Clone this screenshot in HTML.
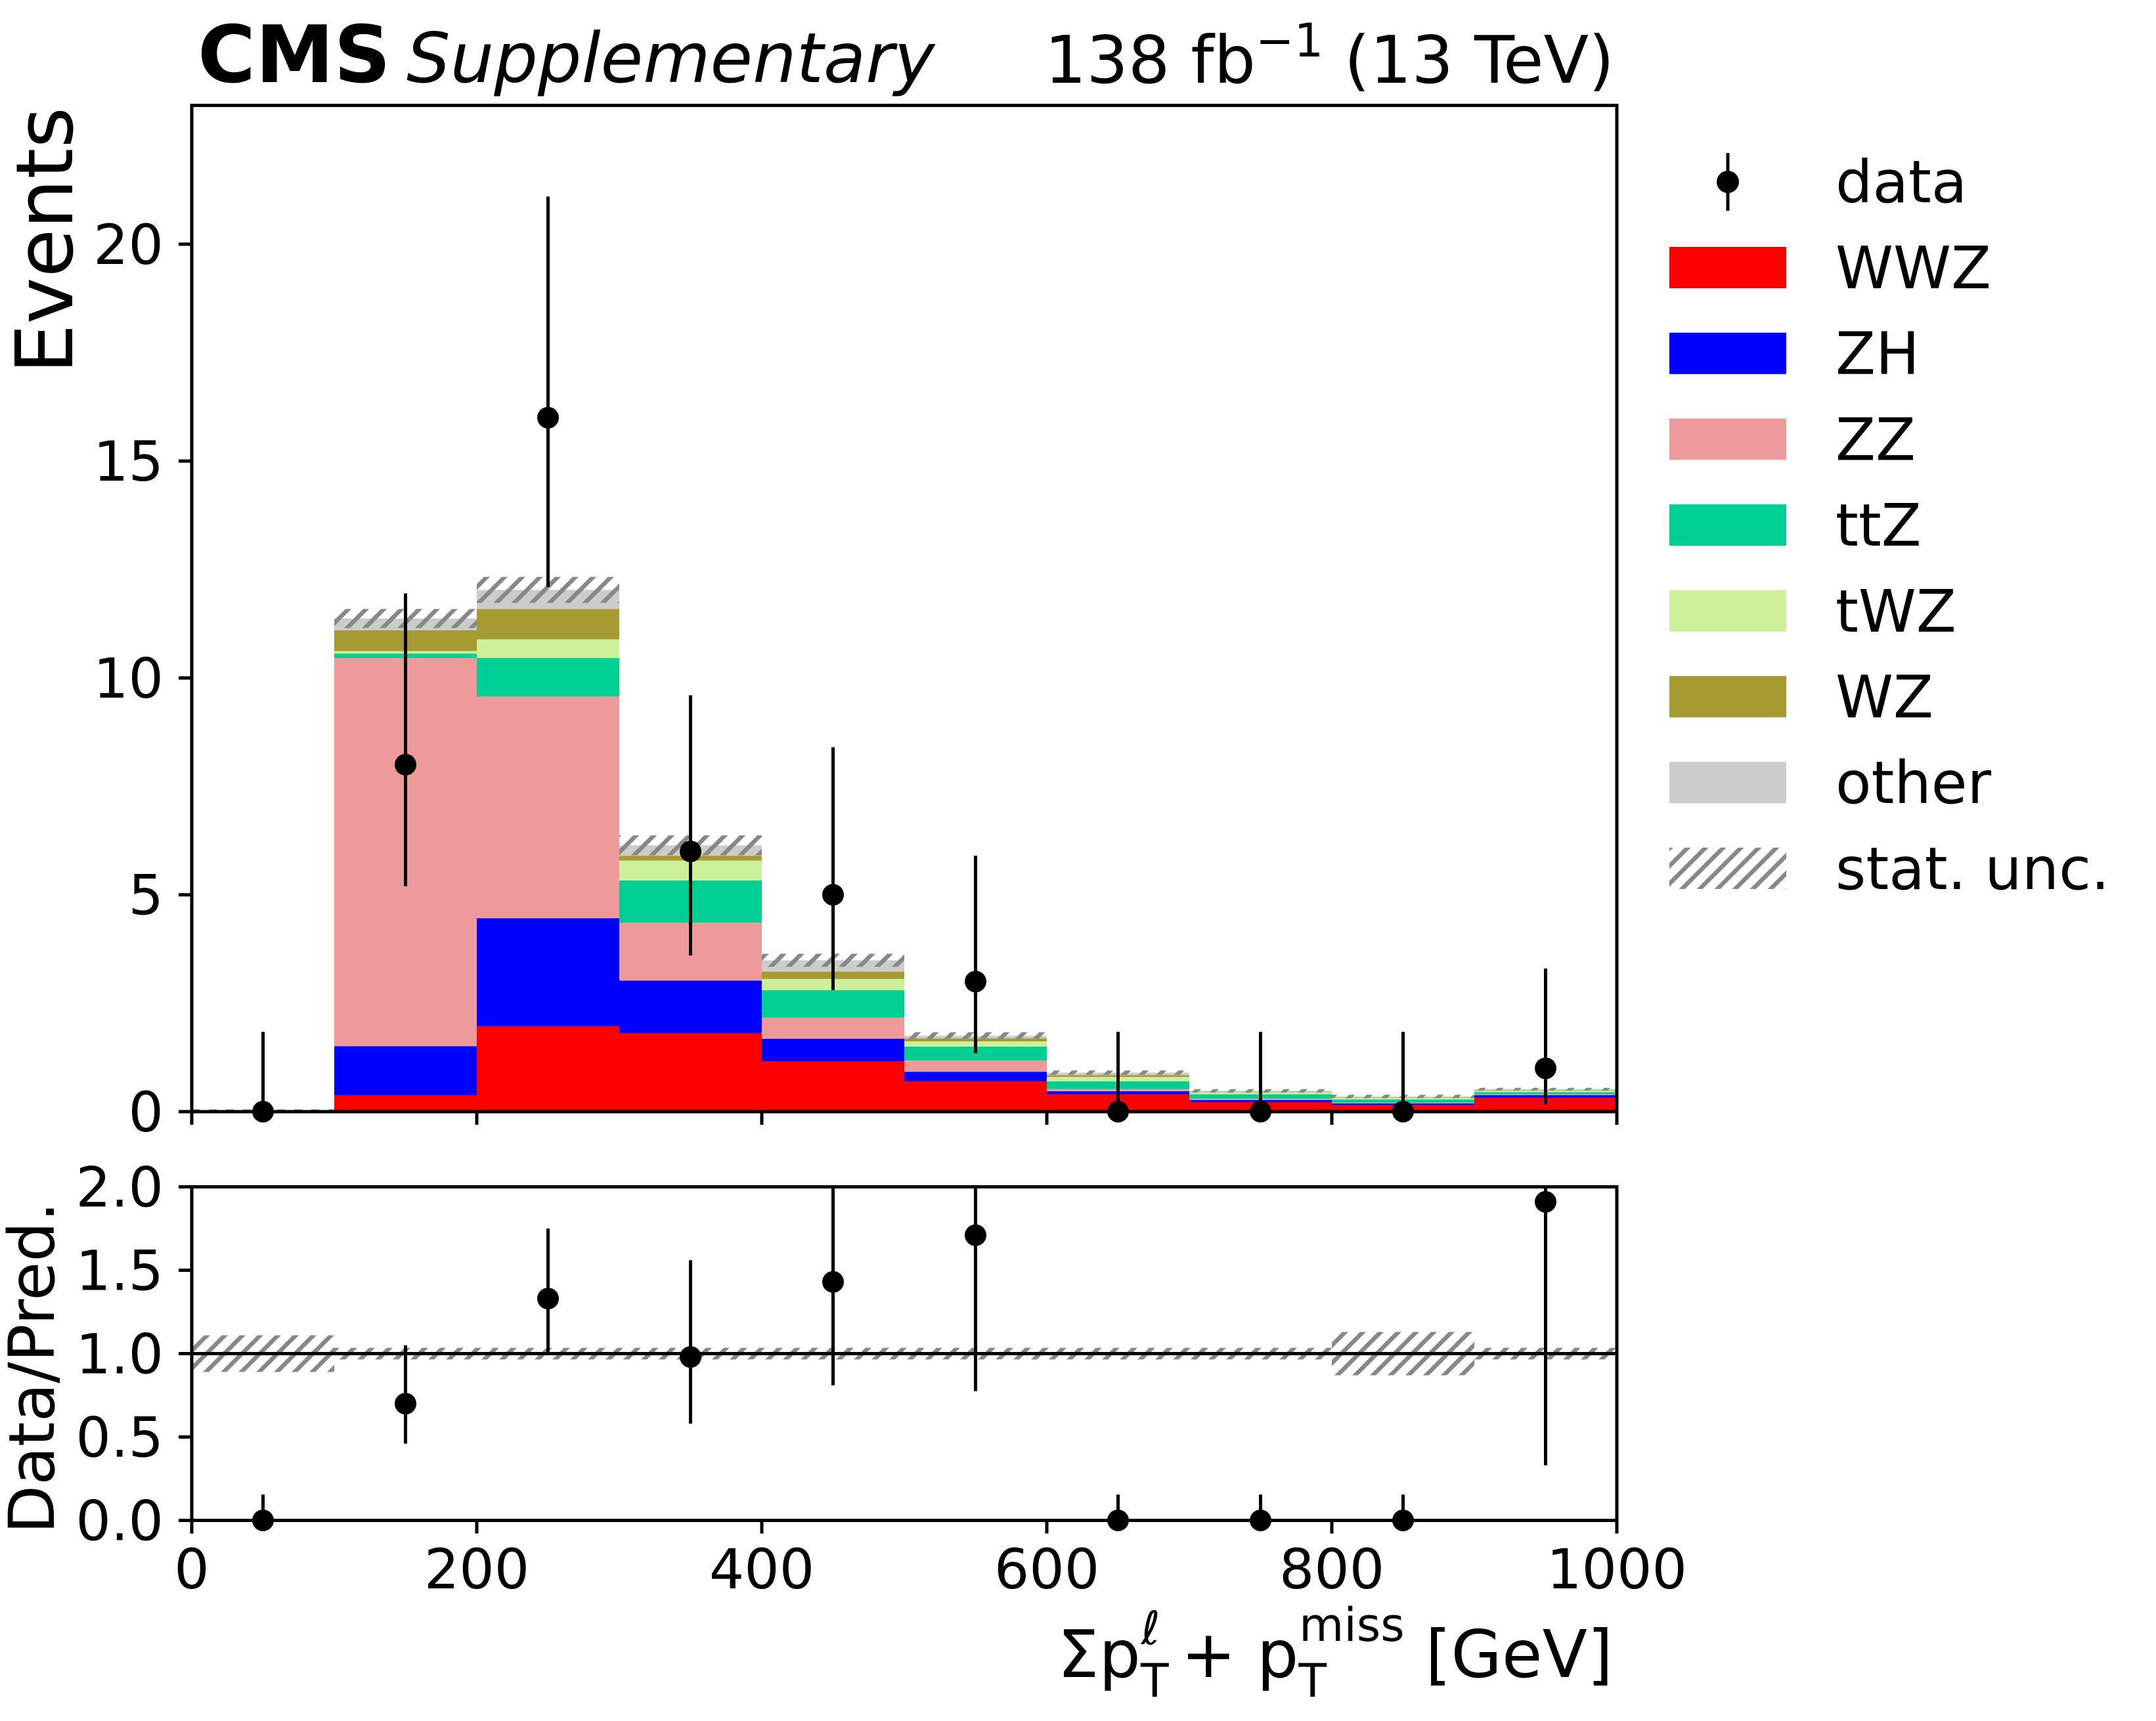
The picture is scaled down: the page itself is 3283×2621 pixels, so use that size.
<!DOCTYPE html>
<html><head><meta charset="utf-8"><style>
html,body{margin:0;padding:0;background:#fff;}
svg{display:block;font-family:"DejaVu Sans","Liberation Sans",sans-serif;}
</style></head><body>
<svg id="chart" width="3283" height="2621" viewBox="0 0 3283 2621" xmlns="http://www.w3.org/2000/svg">
<defs>
<pattern id="hatch" patternUnits="userSpaceOnUse" width="27" height="27">
<path d="M-7,7 L7,-7 M0,27 L27,0 M20,34 L34,20" stroke="#888" stroke-width="6.5"/>
</pattern>
</defs>
<g id="main"></g>
<g id="ratio"></g>
<g id="legend"></g>
<text x="301" y="125" font-size="120" font-weight="bold">CMS</text>
<text x="619" y="125" font-size="105" font-style="italic">Supplementary</text>
<text x="2458" y="126" font-size="100" text-anchor="end">138 fb<tspan dy="-40" font-size="70">−1</tspan><tspan dy="40"> (13 TeV)</tspan></text>
<text transform="translate(110,163) rotate(-90)" font-size="120" text-anchor="end">Events</text>
<text transform="translate(82,2083) rotate(-90)" font-size="96" text-anchor="middle">Data/Pred.</text>
<text x="2456" y="2554" font-size="100" text-anchor="end">Σp<tspan dy="30" font-size="70">T</tspan><tspan dx="-42" dy="-80" font-size="70" font-style="italic">ℓ</tspan><tspan dy="50"> + p</tspan><tspan dy="30" font-size="70">T</tspan><tspan dx="-42" dy="-85" font-size="70">miss</tspan><tspan dy="55"> [GeV]</tspan></text>
</svg>
<script>
const binEdges=[0,100,200,300,400,500,600,700,800,900,1000];
const procNames=["WWZ","ZH","ZZ","ttZ","tWZ","WZ","other"];
const procColors=["#ff0000","#0000ff","#ee9a9a","#00cf94","#cdf09a","#a69a32","#cccccc"];
const wwz=[0,0.38,1.97,1.81,1.16,0.70,0.40,0.22,0.15,0.32];
const zh=[0,1.13,2.49,1.21,0.52,0.22,0.07,0.05,0.04,0.06];
const zz=[0,8.95,5.11,1.34,0.49,0.26,0.05,0.03,0.02,0.02];
const ttz=[0,0.10,0.89,0.97,0.63,0.32,0.18,0.10,0.07,0.05];
const twz=[0,0.06,0.43,0.46,0.26,0.12,0.10,0.05,0.04,0.03];
const wz=[0,0.48,0.70,0.11,0.17,0.07,0.04,0.01,0.01,0.01];
const other=[0,0.27,0.44,0.24,0.26,0.06,0.06,0.02,0.02,0.03];
const statUnc=[0,0.22,0.30,0.23,0.15,0.08,0.05,0.04,0.04,0.03];
const dataVals=[0,8,16,6,5,3,0,0,0,1];
const dataLo=[0,5.2,12.1,3.6,2.8,1.35,0,0,0,0.17];
const dataHi=[1.84,11.95,21.1,9.6,8.4,5.9,1.84,1.84,1.84,3.3];
const ratioVals=[0,0.70,1.33,0.98,1.43,1.71,0,0,0,1.91];
const ratioLo=[0,0.46,1.0,0.58,0.81,0.775,0,0,0,0.33];
const ratioHi=[0.155,1.05,1.75,1.56,2.4,3.4,0.155,0.155,0.155,6.3];
const ratioUnc=[0.11,0.035,0.035,0.035,0.035,0.035,0.035,0.035,0.13,0.035];
const yTicks=[0,5,10,15,20];
const rTicks=[0,0.5,1,1.5,2];
const rTickLabels=["0.0","0.5","1.0","1.5","2.0"];
const xTicks=[0,200,400,600,800,1000];

const NS="http://www.w3.org/2000/svg";
const X0=292,X1=2462,MT=160.5,MB=1693,RT=1807.5,RB=2315.5;
const YMAX=23.2;
function sx(v){return X0+v*(X1-X0)/1000;}
function sy(v){return MB-v*(MB-MT)/YMAX;}
function sr(v){return RB-v*(RB-RT)/2;}
function el(parent,tag,attrs){const e=document.createElementNS(NS,tag);for(const k in attrs)e.setAttribute(k,attrs[k]);parent.appendChild(e);return e;}
const main=document.getElementById('main'),ratio=document.getElementById('ratio'),legend=document.getElementById('legend');
const procs=[wwz,zh,zz,ttz,twz,wz,other];
for(let b=0;b<10;b++){
  let cum=0;
  for(let p=0;p<procs.length;p++){
    const v=procs[p][b];
    if(v>0){
      const r=el(main,'rect',{x:sx(binEdges[b]),y:sy(cum+v),width:sx(binEdges[b+1])-sx(binEdges[b]),height:sy(cum)-sy(cum+v),fill:procColors[p]});
      
      
    }
    cum+=v;
  }
  const u=statUnc[b];
  if(u>0){
    const h=el(main,'rect',{x:sx(binEdges[b]),y:sy(cum+u),width:sx(binEdges[b+1])-sx(binEdges[b]),height:sy(cum-u)-sy(cum+u),fill:'url(#hatch)'});
    
    
  } else {
    const d=el(main,'line',{x1:sx(binEdges[b]),x2:sx(binEdges[b+1]),y1:sy(0)-2,y2:sy(0)-2,stroke:'#888','stroke-width':3,'stroke-dasharray':'12 14'});
    
    
  }
  const rb=el(ratio,'rect',{x:sx(binEdges[b]),y:sr(1+ratioUnc[b]),width:sx(binEdges[b+1])-sx(binEdges[b]),height:sr(1-ratioUnc[b])-sr(1+ratioUnc[b]),fill:'url(#hatch)'});
  
  
}
const unity=el(ratio,'line',{x1:X0,x2:X1,y1:sr(1),y2:sr(1),stroke:'#000','stroke-width':5});


for(let b=0;b<10;b++){
  const cx=sx((binEdges[b]+binEdges[b+1])/2);
  const l=el(main,'line',{x1:cx,x2:cx,y1:sy(dataLo[b]),y2:sy(dataHi[b]),stroke:'#000','stroke-width':5});
  
  
  const c=el(main,'circle',{cx:cx,cy:sy(dataVals[b]),r:16.5,fill:'#000'});
  
  
  const lo=Math.max(0,ratioLo[b]),hi=Math.min(2,ratioHi[b]);
  const rl=el(ratio,'line',{x1:cx,x2:cx,y1:sr(lo),y2:sr(hi),stroke:'#000','stroke-width':5});
  
  
  const rc=el(ratio,'circle',{cx:cx,cy:sr(ratioVals[b]),r:16.5,fill:'#000'});
  
  
}
const f1=el(main,'rect',{x:X0,y:MT,width:X1-X0,height:MB-MT,fill:'none',stroke:'#000','stroke-width':5});


const f2=el(ratio,'rect',{x:X0,y:RT,width:X1-X0,height:RB-RT,fill:'none',stroke:'#000','stroke-width':5});


for(const t of yTicks){
  el(main,'line',{x1:X0-20,x2:X0,y1:sy(t),y2:sy(t),stroke:'#000','stroke-width':5});
  const tx=el(main,'text',{x:249,y:sy(t)+30,'font-size':84,'text-anchor':'end'});
  tx.textContent=String(t);
  
  
}
for(let i=0;i<rTicks.length;i++){
  el(ratio,'line',{x1:X0-20,x2:X0,y1:sr(rTicks[i]),y2:sr(rTicks[i]),stroke:'#000','stroke-width':5});
  const tx=el(ratio,'text',{x:249,y:sr(rTicks[i])+30,'font-size':84,'text-anchor':'end'});
  tx.textContent=rTickLabels[i];
  
  
}
for(const t of xTicks){
  el(main,'line',{x1:sx(t),x2:sx(t),y1:MB,y2:MB+20,stroke:'#000','stroke-width':5});
  el(ratio,'line',{x1:sx(t),x2:sx(t),y1:RB,y2:RB+20,stroke:'#000','stroke-width':5});
  const tx=el(ratio,'text',{x:sx(t),y:2419,'font-size':84,'text-anchor':'middle'});
  tx.textContent=String(t);
  
  
}
const LX=2542,LW=178,LS=130.7;
{
  const g=el(legend,'g',{});
  
  
  el(g,'line',{x1:2631,x2:2631,y1:233,y2:321,stroke:'#000','stroke-width':5});
  el(g,'circle',{cx:2631,cy:277,r:17,fill:'#000'});
  const t=el(g,'text',{x:2795,y:308,'font-size':89});t.textContent='data';
}
const legNames=procNames.concat(["stat. unc."]);
for(let i=0;i<legNames.length;i++){
  const g=el(legend,'g',{});
  
  
  const top=376+LS*i;
  el(g,'rect',{x:LX,y:top,width:LW,height:63,fill:i<7?procColors[i]:'url(#hatch)'});
  const t=el(g,'text',{x:2795,y:top+63,'font-size':89});t.textContent=legNames[i];
}
</script>
</body></html>
